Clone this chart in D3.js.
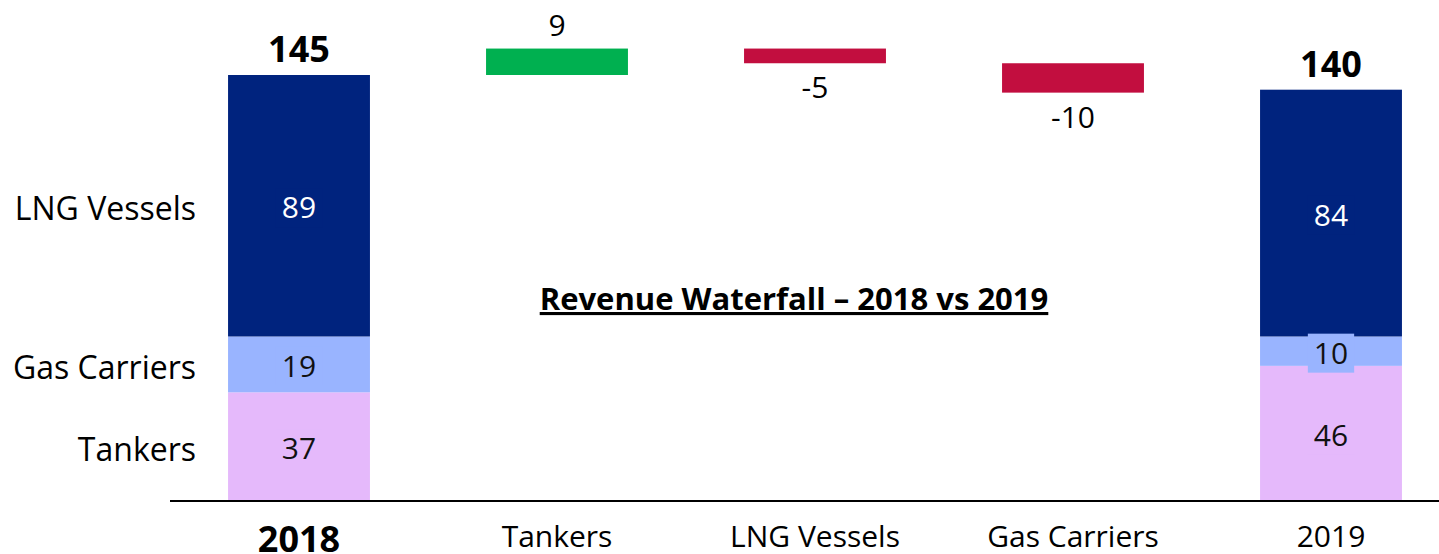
<!DOCTYPE html>
<html>
<head>
<meta charset="utf-8">
<script src="https://cdn.jsdelivr.net/npm/d3@7"></script>
<style>
  html, body { margin: 0; padding: 0; background: #ffffff; }
  svg { display: block; }
  text { font-family: "Open Sans", "Noto Sans", sans-serif; }
</style>
</head>
<body>
<svg id="chart" width="1439" height="554"></svg>
<script>
// ---- data ----
const categories = ["2018", "Tankers", "LNG Vessels", "Gas Carriers", "2019"];
const segments = ["Tankers", "Gas Carriers", "LNG Vessels"];
const values2018 = [37, 19, 89];
const values2019 = [46, 10, 84];
const totals = [145, 140];
const deltas = [9, -5, -10];
const titleText = "Revenue Waterfall \u2013 2018 vs 2019";

const segColors = { "Tankers": "#e5b9fb", "Gas Carriers": "#99b4ff", "LNG Vessels": "#00237e" };
const segTextColors = { "Tankers": "#111", "Gas Carriers": "#111", "LNG Vessels": "#ffffff" };
const upColor = "#00b050";
const downColor = "#c20e3f";

const W = 1439, H = 554;
const svg = d3.select("#chart");

const x = d3.scaleBand().domain(categories).range([170, 1460]).paddingInner(0.45).paddingOuter(0.225);
const y = d3.scaleLinear().domain([0, 145]).range([501, 75]);

// stacked total bars
function stackBar(cat, vals) {
  let cum = 0;
  const segs = vals.map((v, i) => { const s = { name: segments[i], y0: cum, y1: cum + v, v }; cum += v; return s; });
  const g = svg.append("g");
  g.selectAll("rect.seg").data(segs).join("rect")
    .attr("x", x(cat)).attr("width", x.bandwidth())
    .attr("y", d => y(d.y1)).attr("height", d => y(d.y0) - y(d.y1))
    .attr("fill", d => segColors[d.name]);
  segs.forEach(d => {
    const cx = x(cat) + x.bandwidth() / 2, cy = (y(d.y0) + y(d.y1)) / 2 + 2;
    const bg = g.append("rect").attr("fill", segColors[d.name]);
    const t = g.append("text").attr("x", cx).attr("y", cy).attr("dy", "0.35em")
      .attr("text-anchor", "middle").attr("font-size", 30)
      .attr("fill", segTextColors[d.name]).text(d.v);
    const bb = t.node().getBBox();
    bg.attr("x", bb.x - 6).attr("y", bb.y + 2).attr("width", bb.width + 12).attr("height", bb.height - 2);
  });
  return segs;
}
const s18 = stackBar("2018", values2018);
const s19 = stackBar("2019", values2019);

// total labels
[["2018", totals[0]], ["2019", totals[1]]].forEach(([cat, v]) => {
  svg.append("text").attr("x", x(cat) + x.bandwidth() / 2).attr("y", y(v) - 13)
    .attr("text-anchor", "middle").attr("font-size", 36).attr("font-weight", 700)
    .attr("fill", "#000").text(v);
});

// waterfall deltas
let run = totals[0];
deltas.forEach((d, i) => {
  const cat = categories[i + 1];
  const a = run, b = run + d;
  run = b;
  const top = Math.max(a, b), bot = Math.min(a, b);
  svg.append("rect").attr("x", x(cat)).attr("width", x.bandwidth())
    .attr("y", y(top)).attr("height", y(bot) - y(top))
    .attr("fill", d >= 0 ? upColor : downColor);
  const cx = x(cat) + x.bandwidth() / 2;
  svg.append("text").attr("x", cx)
    .attr("y", d >= 0 ? y(top) - 13 : y(bot) + 35)
    .attr("text-anchor", "middle").attr("font-size", 30).attr("fill", "#000")
    .text(d);
});

// row labels on left
s18.forEach(d => {
  svg.append("text").attr("x", 196).attr("y", (y(d.y0) + y(d.y1)) / 2 + 3)
    .attr("dy", "0.35em").attr("text-anchor", "end").attr("font-size", 32).attr("fill", "#000")
    .text(d.name);
});

// baseline axis
svg.append("line").attr("x1", 170).attr("x2", W).attr("y1", y(0)).attr("y2", y(0))
  .attr("stroke", "#000").attr("stroke-width", 2);

// category labels
const xAxis = svg.append("g").attr("transform", `translate(0,${y(0)})`)
  .call(d3.axisBottom(x).tickSize(0).tickPadding(0));
xAxis.select(".domain").remove();
xAxis.selectAll("text")
  .attr("font-family", "Open Sans, sans-serif")
  .attr("fill", "#000")
  .attr("y", d => d === "2018" ? 51 : 46).attr("dy", 0)
  .attr("font-size", d => d === "2018" ? 36 : 30)
  .attr("font-weight", d => d === "2018" ? 700 : 400);

// title
svg.append("text").attr("x", 794).attr("y", 310).attr("text-anchor", "middle")
  .attr("font-size", 31).attr("font-weight", 700).attr("fill", "#000")
  .attr("text-decoration", "underline").text(titleText);
</script>
</body>
</html>
